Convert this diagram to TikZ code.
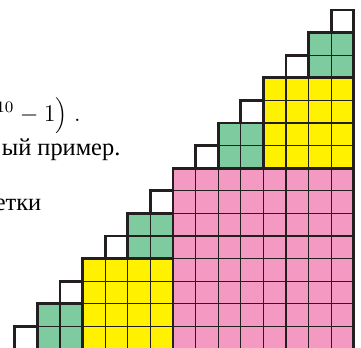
\documentclass[tikz,border=0pt]{standalone}
\usepackage{fontspec}
\usepackage{tikz}
\usepackage{xcolor}
\newfontfamily\cyrfont{Liberation Serif}
\definecolor{cellpink}{HTML}{F49AC2}
\definecolor{cellyellow}{HTML}{FFF100}
\definecolor{cellgreen}{HTML}{7FCBA0}
\definecolor{cellink}{HTML}{231F20}
\tikzset{
  cellgrid/.style={draw=cellink,line width=0.6pt},
  blockedge/.style={draw=cellink,line width=1.35pt},
  txtline/.style={font=\cyrfont\fontsize{12.2}{15}\selectfont,inner sep=0pt,anchor=base east},
  mathline/.style={font=\fontsize{12}{14}\selectfont,inner sep=0pt,anchor=base west}
}

\begin{document}
\begin{tikzpicture}[scale=0.3972]
\useasboundingbox (-0.655,0.044) rectangle (15.319,15.442);

% text of the page, cut at the left edge
\node[mathline] (powline) at (-0.83,10.06) {${}^{10}-1\Bigr)\;$.};
\node[txtline] (exline) at (4.69,8.54) {ый пример.};
\node[txtline] (cellline) at (1.19,6.11) {етки};

% blocks: one 8x8, two 4x4, four 2x2
\fill[cellpink] (7,0) rectangle (15,8);
\fill[cellyellow] (3,0) rectangle (7,4) (11,8) rectangle (15,12);
\fill[cellgreen] (1,0) rectangle (3,2) (5,4) rectangle (7,6)
  (9,8) rectangle (11,10) (13,12) rectangle (15,14);
\draw[cellgrid] (7,0) grid (15,8) (3,0) grid (7,4) (11,8) grid (15,12)
  (1,0) grid (3,2) (5,4) grid (7,6) (9,8) grid (11,10) (13,12) grid (15,14);

% thick edges of the blocks and of the single cells
\draw[blockedge] (7,0) rectangle (15,8)
  (3,0) rectangle (7,4) (11,8) rectangle (15,12)
  (1,0) rectangle (3,2) (5,4) rectangle (7,6)
  (9,8) rectangle (11,10) (13,12) rectangle (15,14)
  (0,0) rectangle (1,1) (2,2) rectangle (3,3) (4,4) rectangle (5,5)
  (6,6) rectangle (7,7) (8,8) rectangle (9,9) (10,10) rectangle (11,11)
  (12,12) rectangle (13,13) (14,14) rectangle (15,15);
\end{tikzpicture}
\end{document}
